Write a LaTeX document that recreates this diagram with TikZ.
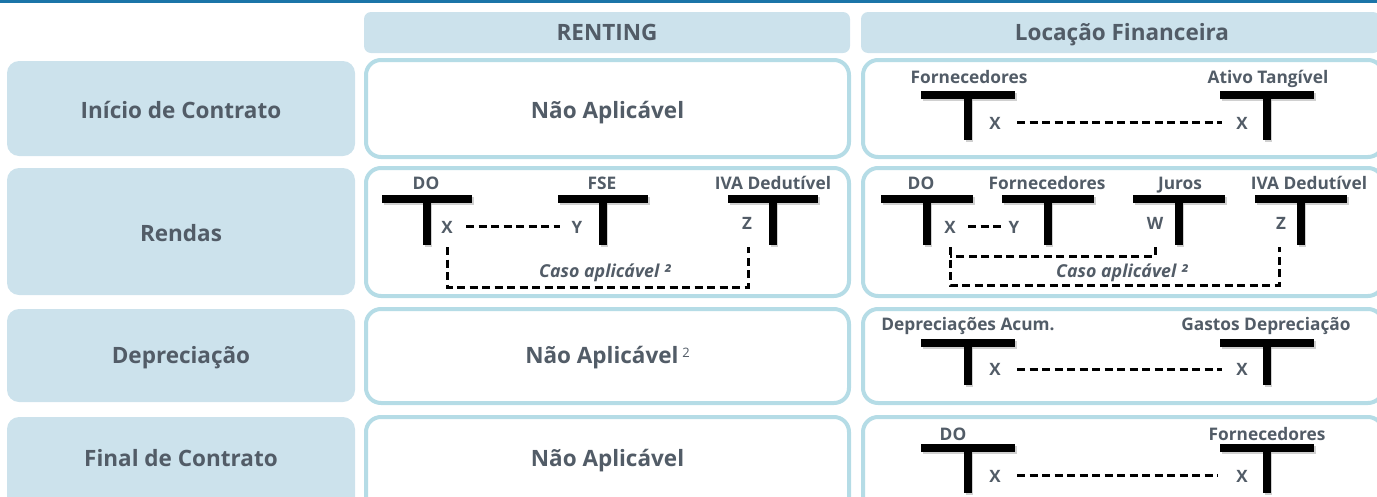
\documentclass[tikz,border=0pt]{standalone}
\usepackage{fontspec}
\setmainfont{Open Sans}
\definecolor{barblue}{HTML}{1B75A8}
\definecolor{fillblue}{HTML}{CCE2EC}
\definecolor{lineblue}{HTML}{B5DCE6}
\definecolor{txtgray}{HTML}{525C67}
\tikzset{
  rowlab/.style={fill=fillblue, rounded corners=12pt, minimum width=348pt, inner sep=0pt},
  hdr/.style={fill=fillblue, rounded corners=7pt, minimum height=41pt, inner sep=0pt},
  cell/.style={draw=lineblue, line width=4pt, fill=white, rounded corners=15pt, inner sep=0pt},
  big/.style={text=txtgray, font=\bfseries\fontsize{22.5}{26}\selectfont, inner sep=0pt, anchor=base},
  tname/.style={text=txtgray, font=\bfseries\fontsize{17.3}{20}\selectfont, inner sep=0pt, anchor=base},
  amt/.style={text=txtgray, font=\bfseries\fontsize{17}{20}\selectfont, inner sep=0pt, anchor=base},
  note/.style={text=txtgray, font=\bfseries\itshape\fontsize{17.8}{20}\selectfont, inner sep=0pt, anchor=base},
  link/.style={line width=3pt, dash pattern=on 8pt off 4.5pt},
  tline/.style={line width=7.5pt},
  tshade/.style={line width=7.5pt, black!30, opacity=0.6},
}
% T-account: #1 name, #2 centre x, #3 bar y, #4 stem bottom y, #5 half bar width,
% #6 title x, #7 title baseline, #8 title
\newcommand{\taccount}[8]{%
  \draw[tshade] (#2-#5+1.5,#3+2) -- (#2+#5+1.5,#3+2);
  \draw[tshade] (#2+1.5,#3+2) -- (#2+1.5,#4+2);
  \draw[tline] (#2-#5,#3) -- (#2+#5,#3);
  \draw[tline] (#2,#3) -- (#2,#4);
  \node[tname] (#1) at (#6,#7) {#8};
}
\begin{document}
\begin{tikzpicture}[x=1pt, y=-1pt]
\useasboundingbox (0,0) rectangle (1377,496);
\clip (0,0) rectangle (1377,496);
\fill[barblue] (0,0) rectangle (1377,3);

% column headers
\node[hdr, minimum width=486pt] (hrent) at (607,32.5) {};
\node[hdr, minimum width=519pt] (hloc) at (1120.5,32.5) {};
\node[big] (hrentt) at (607,40) {RENTING};
\node[big] (hloct) at (1122,40) {Locação Financeira};

% row labels
\node[rowlab, minimum height=95pt] (r1) at (181,108.5) {};
\node[rowlab, minimum height=127pt] (r2) at (181,231.5) {};
\node[rowlab, minimum height=93pt] (r3) at (181,355.5) {};
\node[rowlab, minimum height=100pt] (r4) at (181,467) {};
\node[big] (r1t) at (181,118) {Início de Contrato};
\node[big] (r2t) at (181,241) {Rendas};
\node[big] (r3t) at (181,363) {Depreciação};
\node[big] (r4t) at (181,466) {Final de Contrato};

% RENTING cells
\node[cell, minimum width=483pt, minimum height=97pt] (m1) at (607.5,108.5) {};
\node[cell, minimum width=483pt, minimum height=128pt] (m2) at (607.5,232) {};
\node[cell, minimum width=483pt, minimum height=94pt] (m3) at (607.5,356) {};
\node[cell, minimum width=483pt, minimum height=100pt] (m4) at (607.5,467) {};
\node[big] (m1t) at (607.5,118) {Não Aplicável};
\node[big] (m3t) at (607.5,363) {Não Aplicável\,\textmd{\fontsize{13}{15}\selectfont\raisebox{6pt}{2}}};
\node[big] (m4t) at (607.5,466) {Não Aplicável};

% Locação Financeira cells
\node[cell, minimum width=520pt, minimum height=97pt] (f1) at (1123,108.5) {};
\node[cell, minimum width=520pt, minimum height=128pt] (f2) at (1123,232) {};
\node[cell, minimum width=520pt, minimum height=94pt] (f3) at (1123,356) {};
\node[cell, minimum width=520pt, minimum height=100pt] (f4) at (1123,467) {};

% --- Início de Contrato, locação financeira
\taccount{fa1}{968}{95}{140}{47}{969}{83}{Fornecedores}
\taccount{fa2}{1267}{95}{140}{47}{1268}{83}{Ativo Tangível}
\node[amt] (fx1) at (995,129) {X};
\node[amt] (fx2) at (1242,129) {X};
\coordinate (fx1e) at (1017,122);
\coordinate (fx2w) at (1222,122);
\draw[link] (fx1e) -- (fx2w);

% --- Rendas, renting
\taccount{rd}{427}{199}{245}{45}{426}{189}{DO}
\taccount{rf}{603}{199}{245}{45}{602}{189}{FSE}
\taccount{ri}{773}{199}{245}{45}{773}{189}{IVA Dedutível}
\node[amt] (rx) at (447,233) {X};
\node[amt] (ry) at (577,233) {Y};
\node[amt] (rz) at (747,229) {Z};
\coordinate (rxa) at (466,226);
\coordinate (rya) at (560,226);
\draw[link] (rxa) -- (rya);
\coordinate (rb1) at (447,247);
\coordinate (rb2) at (748,247);
\draw[link] (rb1) -- (447,287) -- (748,287) -- (rb2);
\node[note] (rnote) at (605,277) {Caso aplicável ²};

% --- Rendas, locação financeira
\taccount{ld}{927}{199}{245}{46}{921}{189}{DO}
\taccount{lf}{1048}{199}{245}{46}{1047}{189}{Fornecedores}
\taccount{lj}{1179}{199}{245}{46}{1180}{189}{Juros}
\taccount{li}{1301}{199}{245}{46}{1309}{189}{IVA Dedutível}
\node[amt] (lx) at (950,233) {X};
\node[amt] (ly) at (1014,233) {Y};
\node[amt] (lw) at (1155,229) {W};
\node[amt] (lz) at (1281,229) {Z};
\coordinate (lxa) at (968,226);
\coordinate (lya) at (1004,226);
\draw[link] (lxa) -- (lya);
\coordinate (lw1) at (1155,247);
\coordinate (lx1) at (950,247);
\coordinate (lz1) at (1279,247);
\draw[link] (lw1) -- (1155,256) -- (950,256);
\draw[link] (lx1) -- (950,285) -- (1279,285) -- (lz1);
\node[note] (lnote) at (1122,277) {Caso aplicável ²};

% --- Depreciação, locação financeira
\taccount{dp1}{968}{343}{385}{47}{968}{330}{Depreciações Acum.}
\taccount{dp2}{1267}{343}{385}{47}{1266}{330}{Gastos Depreciação}
\node[amt] (dx1) at (995,375) {X};
\node[amt] (dx2) at (1242,375) {X};
\coordinate (dx1e) at (1017,369);
\coordinate (dx2w) at (1222,369);
\draw[link] (dx1e) -- (dx2w);

% --- Final de Contrato, locação financeira
\taccount{fc1}{968}{448}{493}{47}{953}{440}{DO}
\taccount{fc2}{1267}{448}{493}{47}{1267}{440}{Fornecedores}
\node[amt] (cx1) at (995,482) {X};
\node[amt] (cx2) at (1242,482) {X};
\coordinate (cx1e) at (1017,475);
\coordinate (cx2w) at (1218,475);
\draw[link] (cx1e) -- (cx2w);
\end{tikzpicture}
\end{document}
